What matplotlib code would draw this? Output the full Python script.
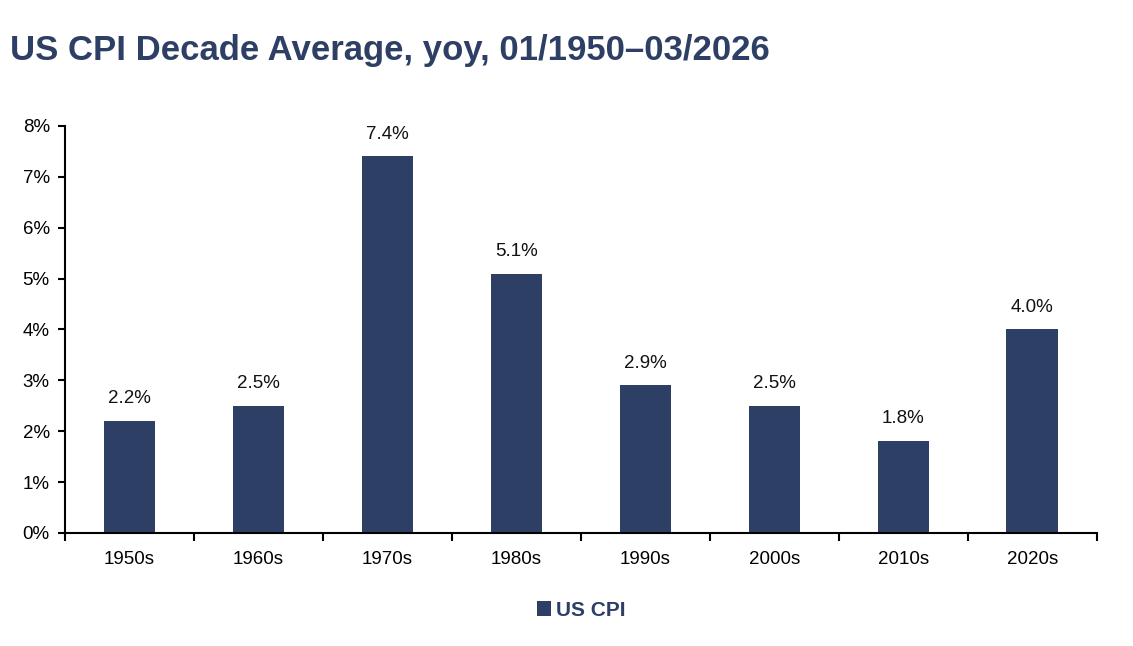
import matplotlib.pyplot as plt
from matplotlib.ticker import FuncFormatter, FixedLocator

plt.rcParams['font.family'] = ['Liberation Sans', 'DejaVu Sans']

decadas = ['1950s', '1960s', '1970s', '1980s', '1990s', '2000s', '2010s', '2020s']
cpi = [2.2, 2.5, 7.4, 5.1, 2.9, 2.5, 1.8, 4.0]
etiquetas = ['2.2%', '2.5%', '7.4%', '5.1%', '2.9%', '2.5%', '1.8%', '4.0%']

azul = '#2E3F66'

fig = plt.figure(figsize=(11.33, 6.46), dpi=100)
ax = fig.add_axes([0.0574, 0.175, 0.9106, 0.63])

x = list(range(len(decadas)))
barras = ax.bar(x, cpi, width=0.40, color=azul, label='US CPI', zorder=2)

for xi, v, t in zip(x, cpi, etiquetas):
    ax.annotate(t, (xi, v), xytext=(0, 10), textcoords='offset points',
                ha='center', va='bottom', fontsize=13.5, color='#111111')

ax.set_xlim(-0.5, len(decadas) - 0.5)
ax.set_ylim(0, 8)
ax.set_yticks(range(0, 9))
ax.yaxis.set_major_formatter(FuncFormatter(lambda v, p: f'{int(v)}%'))

ax.set_xticks(x)
ax.set_xticklabels(decadas)
ax.xaxis.set_minor_locator(FixedLocator([i - 0.5 for i in range(len(decadas) + 1)]))
ax.tick_params(axis='x', which='major', length=0, pad=13, labelsize=13.5)
ax.tick_params(axis='x', which='minor', length=6, width=1.5, direction='out')
ax.tick_params(axis='y', length=5, width=1.5, direction='out', labelsize=13.5, pad=6)

for s in ['top', 'right']:
    ax.spines[s].set_visible(False)
for s in ['left', 'bottom']:
    ax.spines[s].set_linewidth(1.5)
    ax.spines[s].set_color('black')

fig.text(0.009, 0.907, 'US CPI Decade Average, yoy, 01/1950\u201303/2026',
         fontsize=25, fontweight='bold', color=azul, ha='left', va='baseline')

leg = ax.legend(loc='upper center', bbox_to_anchor=(0.5, -0.12), frameon=False,
                handlelength=0.7, handleheight=0.7, handletextpad=0.2,
                prop={'size': 15, 'weight': 'bold'})
for t in leg.get_texts():
    t.set_color(azul)

fig.savefig('out.png', dpi=100)
